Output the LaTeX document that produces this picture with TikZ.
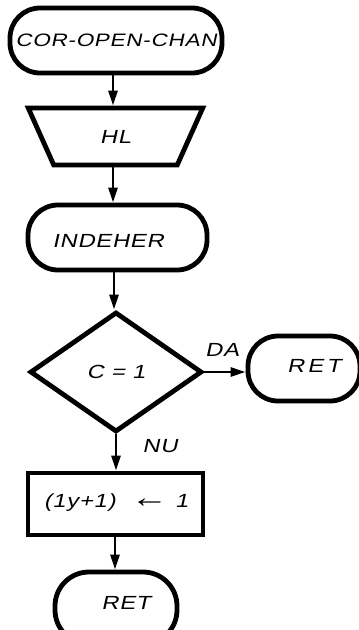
\documentclass[tikz,border=0pt]{standalone}
\usepackage{fontspec}
\newfontfamily\hand[FakeSlant=0.22,FakeStretch=1.25,LetterSpace=4]{Liberation Sans}
\usetikzlibrary{shapes.geometric,arrows.meta}
\begin{document}
\begin{tikzpicture}[x=1pt,y=-1pt,
  every node/.style={font=\hand\fontsize{19}{21}\selectfont},
  term/.style={draw,line width=4.8pt,rectangle,rounded corners=30pt,inner sep=0pt},
  proc/.style={draw,line width=4.8pt,rectangle,inner sep=0pt},
  trap/.style={draw,line width=4.8pt,trapezium,shape border rotate=180,trapezium stretches=true,trapezium angle=67,inner sep=2pt},
  dec/.style={draw,line width=4.8pt,diamond,inner sep=2pt,aspect=1.43},
  flow/.style={line width=2.6pt,-{Triangle[length=15pt,width=9pt]}},
  lbl/.style={inner sep=0pt}]
\useasboundingbox (0,0) rectangle (359,630);
\node[term,minimum width=212pt,minimum height=65pt,font=\hand\fontsize{18}{20}\selectfont] (start) at (116,40.5) {COR-OPEN-CHAN};
\node[trap,minimum width=175pt,minimum height=57pt] (hl) at (115.5,136.5) {HL};
\node[term,minimum width=179pt,minimum height=65pt] (ind) at (117.5,237.5) {};
\node[lbl] (indt) at (108,241) {INDEHER};
\node[dec,minimum width=172pt,minimum height=120pt] (dec) at (116,372) {C = 1};
\node[term,minimum width=112pt,minimum height=65pt] (ret1) at (304,368.5) {};
\node[lbl] (ret1t) at (314,366) {R\,E\,T};
\node[proc,minimum width=175pt,minimum height=62pt] (asg) at (115.5,504) {};
\node[lbl] (asgt) at (116,503) {(1y+1)\hspace{14pt}{\fontsize{30}{30}\selectfont\textbf{←}}\hspace{8pt}1};
\node[term,minimum width=122pt,minimum height=72pt,rounded corners=34pt] (ret2) at (116,608) {};
\node[lbl] (ret2t) at (126,603) {RET};
\draw[flow] (start.south -| 113,0) -- (hl.north -| 113,0);
\draw[flow] (hl.south -| 113,0) -- (ind.north -| 113,0);
\draw[flow] (ind.south -| 114,0) -- (dec.north -| 114,0);
\draw[flow] (dec.east) -- (ret1.west |- dec.east);
\draw[flow] (dec.south) -- (asg.north -| dec.south);
\draw[flow] (asg.south -| 115,0) -- (ret2.north -| 115,0);
\node[lbl] (da) at (222,350) {DA};
\node[lbl] (nu) at (160,446) {NU};
\end{tikzpicture}
\end{document}
